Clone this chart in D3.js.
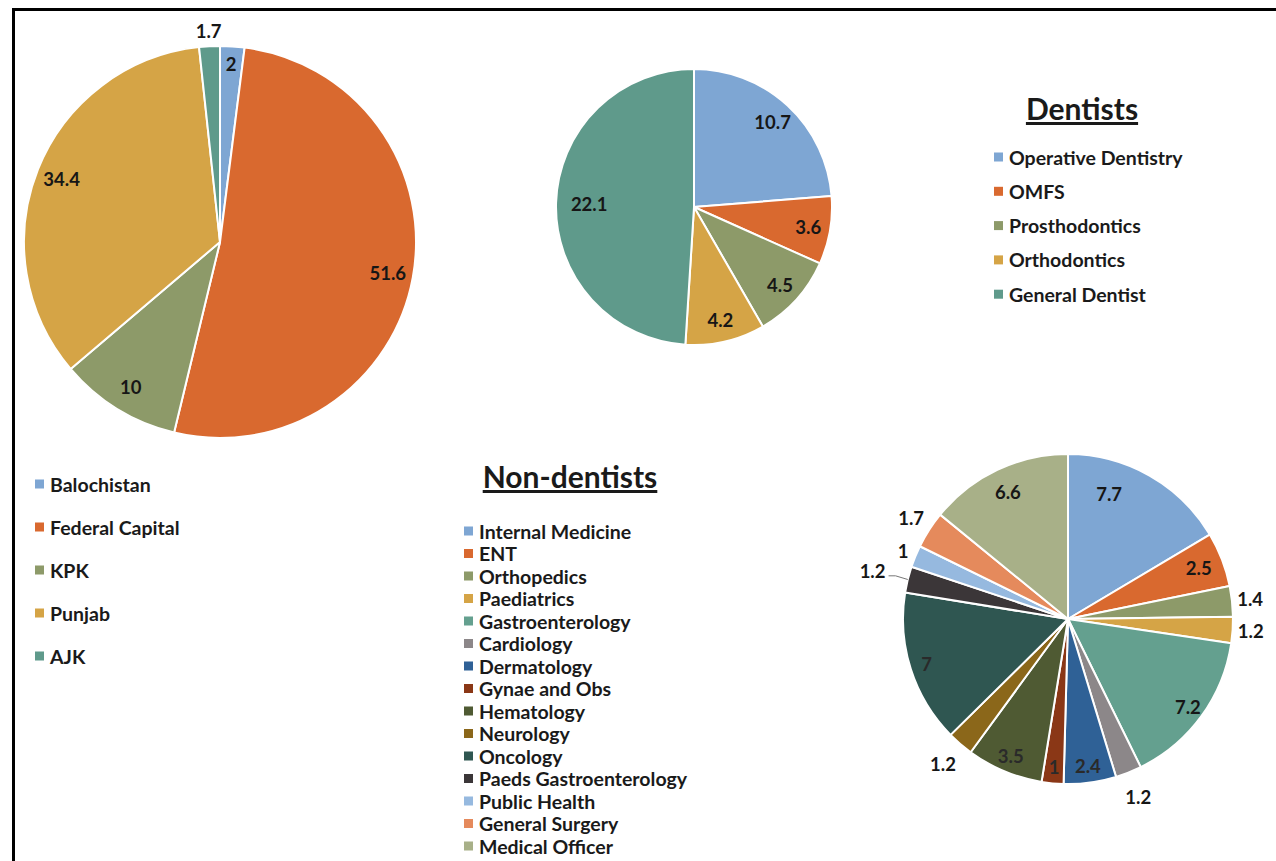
<!DOCTYPE html>
<html>
<head>
<meta charset="utf-8">
<script src="https://cdn.jsdelivr.net/npm/d3@7"></script>
<style>
  html, body { margin: 0; padding: 0; background: #fff; }
  svg { display: block; font-family: Lato, "Open Sans", sans-serif; }
</style>
</head>
<body>
<svg id="chart" width="1276" height="861"></svg>
<script>
// ---------- DATA ----------
const regionNames = ["Balochistan", "Federal Capital", "KPK", "Punjab", "AJK"];
const regionValues = [2, 51.6, 10, 34.4, 1.7];

const dentistNames = ["Operative Dentistry", "OMFS", "Prosthodontics", "Orthodontics", "General Dentist"];
const dentistValues = [10.7, 3.6, 4.5, 4.2, 22.1];

const nonDentistNames = ["Internal Medicine", "ENT", "Orthopedics", "Paediatrics", "Gastroenterology",
  "Cardiology", "Dermatology", "Gynae and Obs", "Hematology", "Neurology", "Oncology",
  "Paeds Gastroenterology", "Public Health", "General Surgery", "Medical Officer"];
const nonDentistValues = [7.7, 2.5, 1.4, 1.2, 7.2, 1.2, 2.4, 1, 3.5, 1.2, 7, 1.2, 1, 1.7, 6.6];

// ---------- STYLE ----------
const basePalette = ["#7ea6d3", "#d9692f", "#8d9a69", "#d5a446", "#5f9a8b"];
const nonDentistPalette = ["#7ea6d3", "#d9692f", "#8d9a69", "#d5a446", "#64a08f",
  "#8c8789", "#2f6196", "#8a3716", "#4f5a33", "#8b671a", "#2f5651",
  "#3b3638", "#96b9df", "#e58a5c", "#a8b088"];

const svg = d3.select("#chart");
const W = 1276, H = 861;
const labelColor = "#161616";

// frame
svg.append("path")
  .attr("d", `M13.5,${H} L13.5,9.5 L${W},9.5`)
  .attr("fill", "none").attr("stroke", "#000").attr("stroke-width", 3);

function drawPie(cfg) {
  const pie = d3.pie().sort(null).value(d => d.value);
  const arcs = pie(cfg.names.map((n, i) => ({ name: n, value: cfg.values[i], color: cfg.colors[i] })));
  const g = svg.append("g").attr("transform", `translate(${cfg.cx},${cfg.cy})`);
  const arc = d3.arc().innerRadius(0).outerRadius(cfg.r);
  g.selectAll("path.slice").data(arcs).join("path")
    .attr("class", "slice")
    .attr("d", arc)
    .attr("fill", d => d.data.color)
    .attr("stroke", "#fff").attr("stroke-width", 2).attr("stroke-linejoin", "round");

  arcs.forEach((d, i) => {
    const k = cfg.outside.has(i) ? (cfg.outsideK[i] || 1.12) : (cfg.insideK[i] || cfg.inK);
    const lr = cfg.r * k;
    const ang = (d.startAngle + d.endAngle) / 2 + ((cfg.angleShift && cfg.angleShift[i]) || 0);
    const c = [Math.sin(ang) * lr, -Math.cos(ang) * lr];
    g.append("text")
      .attr("x", c[0]).attr("y", c[1])
      .attr("text-anchor", "middle").attr("dominant-baseline", "central")
      .attr("font-size", 18.5).attr("font-weight", 700)
      .attr("fill", cfg.textColor && cfg.textColor[i] ? cfg.textColor[i] : labelColor)
      .text(d.data.value);
    if (cfg.leader && cfg.leader.has(i)) {
      const edge = d3.arc().innerRadius(cfg.r).outerRadius(cfg.r).centroid(d);
      g.append("path")
        .attr("d", `M${c[0] + 16},${c[1] + 5} L${c[0] + 23},${c[1] + 5} L${edge[0]},${edge[1]}`)
        .attr("fill", "none").attr("stroke", "#777").attr("stroke-width", 1);
    }
  });
}

function drawLegend(cfg) {
  const g = svg.append("g");
  cfg.names.forEach((n, i) => {
    const y = cfg.y0 + i * cfg.dy;
    g.append("rect").attr("x", cfg.x).attr("y", y - 4.5).attr("width", 9).attr("height", 9)
      .attr("fill", cfg.colors[i]);
    g.append("text").attr("x", cfg.x + 15).attr("y", y)
      .attr("dominant-baseline", "central")
      .attr("font-size", cfg.fs).attr("font-weight", 700).attr("fill", "#1a1a1a")
      .text(n);
  });
}

function drawTitle(text, x, y) {
  svg.append("text").attr("x", x).attr("y", y)
    .attr("text-anchor", "middle")
    .attr("font-size", 30).attr("font-weight", 700).attr("fill", "#1a1a1a")
    .attr("text-decoration", "underline")
    .text(text);
}

// Pie 1: regions
drawPie({
  names: regionNames, values: regionValues, colors: basePalette,
  cx: 220, cy: 242, r: 196, inK: 0.87, insideK: {0: 0.91},
  outside: new Set([4]), outsideK: {4: 1.08}
});
drawLegend({ names: regionNames, colors: basePalette, x: 35, y0: 484, dy: 43, fs: 19.5 });

// Pie 2: dentists
drawPie({
  names: dentistNames, values: dentistValues, colors: basePalette,
  cx: 694, cy: 207, r: 138, inK: 0.84, insideK: {4: 0.76},
  outside: new Set(), outsideK: {}
});
drawTitle("Dentists", 1082, 120);
drawLegend({ names: dentistNames, colors: basePalette, x: 994, y0: 157, dy: 34.3, fs: 19.5 });

// Pie 3: non-dentists
drawPie({
  names: nonDentistNames, values: nonDentistValues, colors: nonDentistPalette,
  cx: 1068, cy: 619, r: 165, inK: 0.9, insideK: {0: 0.8, 1: 0.85, 14: 0.85},
  angleShift: {0: -0.2},
  outside: new Set([2, 3, 5, 9, 11, 12, 13]),
  outsideK: {2: 1.11, 3: 1.11, 5: 1.16, 9: 1.16, 11: 1.22, 12: 1.08, 13: 1.13},
  leader: new Set([11]),
  textColor: {6: "#2a2a2a", 7: "#2a2a2a", 8: "#2a2a2a", 10: "#2a2a2a"}
});
drawTitle("Non-dentists", 570, 488);
drawLegend({ names: nonDentistNames, colors: nonDentistPalette, x: 464, y0: 531, dy: 22.5, fs: 19.5 });
</script>
</body>
</html>
